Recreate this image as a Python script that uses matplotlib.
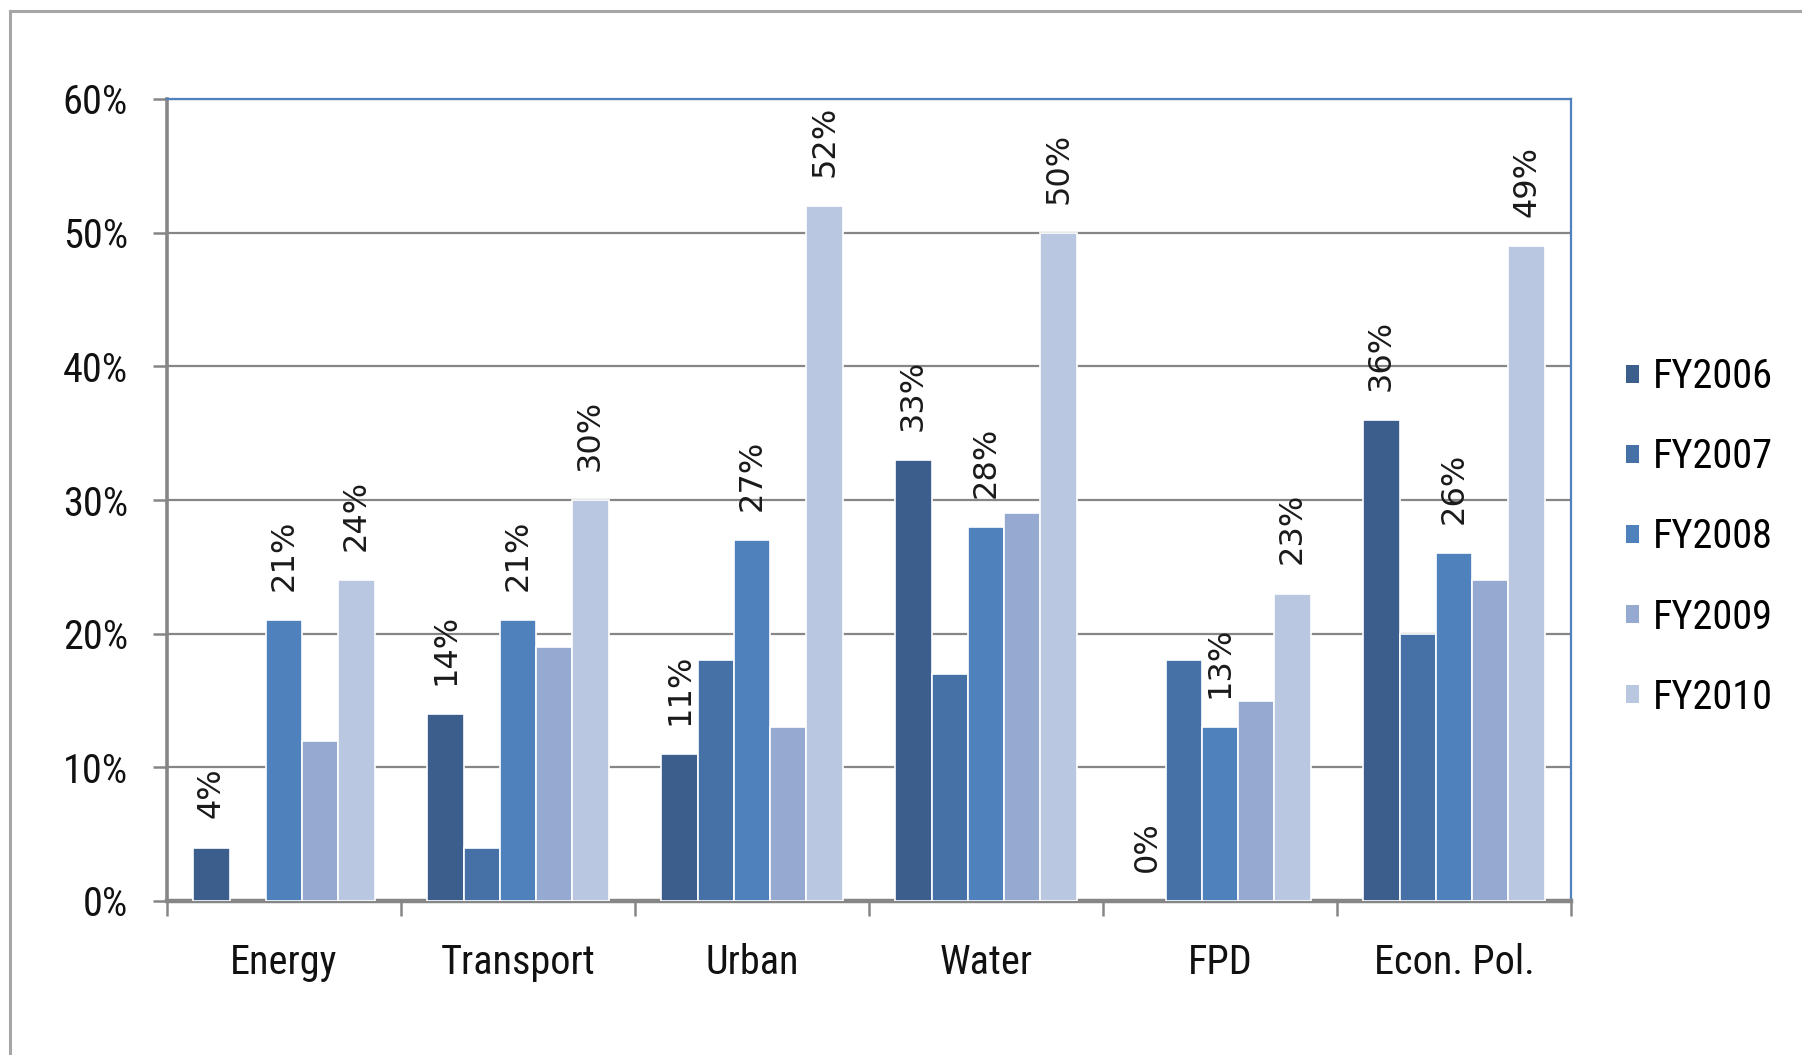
import matplotlib
matplotlib.use("Agg")
import matplotlib.pyplot as plt
from matplotlib import font_manager
from matplotlib.patches import Patch
from matplotlib.lines import Line2D
from matplotlib.ticker import FuncFormatter, FixedLocator
import numpy as np

categories = ["Energy", "Transport", "Urban", "Water", "FPD", "Econ. Pol."]
series_names = ["FY2006", "FY2007", "FY2008", "FY2009", "FY2010"]
fy2006 = [4, 14, 11, 33, 0, 36]
fy2007 = [0, 4, 18, 17, 18, 20]
fy2008 = [21, 21, 27, 28, 13, 26]
fy2009 = [12, 19, 13, 29, 15, 24]
fy2010 = [24, 30, 52, 50, 23, 49]
labeled_series = ["FY2006", "FY2008", "FY2010"]
y_ticks = [0, 10, 20, 30, 40, 50, 60]

series = [fy2006, fy2007, fy2008, fy2009, fy2010]
colors = ["#3B5E8C", "#4571A7", "#4F81BD", "#95A9D1", "#B9C7E0"]

available = {f.name for f in font_manager.fontManager.ttflist}
choice = None
for name, size in [("Liberation Sans Narrow", 29), ("Roboto Condensed", 29),
                   ("Open Sans Condensed", 28), ("Lato", 25)]:
    if name in available:
        choice = (name, size)
        break
if choice is None:
    choice = ("DejaVu Sans", 22)
narrow = [choice[0], "DejaVu Sans"]
nsize = choice[1]

fig = plt.figure(figsize=(18.02, 10.55), dpi=100)
ax = fig.add_axes([167/1802, 154/1055, (1571-167)/1802, (901-99)/1055])

# outer frame lines (left and top)
fig.add_artist(Line2D([10/1802, 10/1802], [0, 1-11/1055], transform=fig.transFigure,
                      color="#A6A6A6", lw=2.2))
fig.add_artist(Line2D([10/1802, 1], [1-11/1055, 1-11/1055], transform=fig.transFigure,
                      color="#A6A6A6", lw=2.2))

x = np.arange(len(categories))
w = 0.155
for i, (name, vals, c) in enumerate(zip(series_names, series, colors)):
    lws = [1.2 if v > 0 else 0 for v in vals]
    bars = ax.bar(x + (i - 2) * w, vals, width=w, color=c, edgecolor="white",
                  linewidth=lws, label=name, zorder=3)
    if name in labeled_series:
        for b, v in zip(bars, vals):
            ax.annotate(f"{v}%", (b.get_x() + b.get_width() / 2, b.get_height()),
                        xytext=(0, 21), textcoords="offset points", rotation=90,
                        ha="center", va="bottom", fontsize=23,
                        family="DejaVu Sans", color="#1a1a1a", zorder=4)

ax.set_xlim(-0.5, len(categories) - 0.5)
ax.set_ylim(0, 60)
ax.yaxis.set_major_locator(FixedLocator(y_ticks))
ax.yaxis.set_major_formatter(FuncFormatter(lambda v, p: f"{int(v)}%"))
ax.grid(axis="y", color="#868686", lw=1.6, zorder=1)
ax.set_axisbelow(True)

ax.set_xticks(x)
ax.set_xticklabels(categories)
ax.set_xticks(np.arange(-0.5, len(categories)), minor=True)
ax.tick_params(axis="x", which="major", length=0, pad=30)
ax.tick_params(axis="x", which="minor", length=11, width=1.8, color="#868686")
ax.tick_params(axis="y", length=10, width=1.8, color="#868686", pad=18)

for lbl in ax.get_xticklabels() + ax.get_yticklabels():
    lbl.set_family(narrow)
    lbl.set_fontsize(nsize)
    lbl.set_color("#111111")

ax.spines["left"].set_color("#868686")
ax.spines["left"].set_linewidth(2.6)
ax.spines["bottom"].set_color("#868686")
ax.spines["bottom"].set_linewidth(3.2)
ax.spines["top"].set_color("#4F81BD")
ax.spines["top"].set_linewidth(1.6)
ax.spines["right"].set_color("#4F81BD")
ax.spines["right"].set_linewidth(1.6)

handles = [Patch(facecolor=c, edgecolor="none") for c in colors]
fig.legend(handles, series_names, loc="center left",
           bbox_to_anchor=(1626/1802, 1 - 537/1055), frameon=False,
           prop={"family": narrow, "size": nsize},
           handlelength=0.32, handleheight=0.32, handletextpad=0.35,
           labelspacing=1.02, borderpad=0, borderaxespad=0)

fig.savefig("out.png", dpi=100, facecolor="white")
